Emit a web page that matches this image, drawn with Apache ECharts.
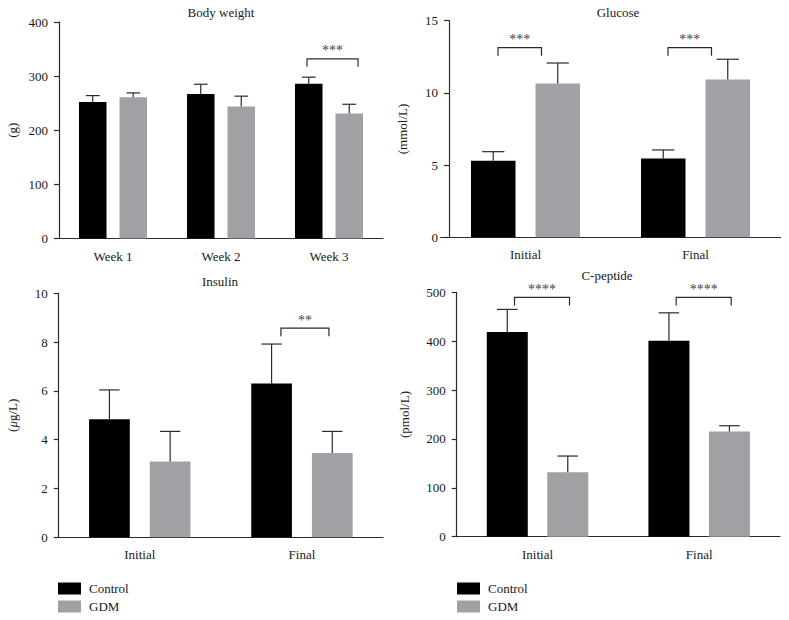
<!DOCTYPE html>
<html>
<head>
<meta charset="utf-8">
<script src="https://cdn.jsdelivr.net/npm/echarts@6/dist/echarts.min.js"></script>
<style>
  html, body { margin: 0; padding: 0; background: #fff; }
  #chart { width: 789px; height: 620px; }
</style>
</head>
<body>
<div id="chart"></div>
<script>
// ---------- data ----------
const seriesNames = ['Control', 'GDM'];

const bwCats = ['Week 1', 'Week 2', 'Week 3'];
const bwControl = [252, 267, 286];
const bwControlSD = [12, 18, 12];
const bwGDM = [261, 244, 231];
const bwGDMSD = [8, 19, 17];
const bwTicks = [0, 100, 200, 300, 400];
const bwSig = [{ cat: 2, level: 332, label: '***' }];

const gluCats = ['Initial', 'Final'];
const gluControl = [5.3, 5.45];
const gluControlSD = [0.63, 0.6];
const gluGDM = [10.65, 10.92];
const gluGDMSD = [1.42, 1.41];
const gluTicks = [0, 5, 10, 15];
const gluSig = [{ cat: 0, level: 13.13, label: '***' }, { cat: 1, level: 13.13, label: '***' }];

const insCats = ['Initial', 'Final'];
const insControl = [4.84, 6.30];
const insControlSD = [1.2, 1.62];
const insGDM = [3.11, 3.45];
const insGDMSD = [1.23, 0.89];
const insTicks = [0, 2, 4, 6, 8, 10];
const insSig = [{ cat: 1, level: 8.57, label: '**' }];

const cpCats = ['Initial', 'Final'];
const cpControl = [419, 401];
const cpControlSD = [46, 57];
const cpGDM = [132, 215];
const cpGDMSD = [33, 12];
const cpTicks = [0, 100, 200, 300, 400, 500];
const cpSig = [{ cat: 0, level: 489.6, label: '****' }, { cat: 1, level: 489.6, label: '****' }];

// ---------- style / layout ----------
const FONT = 'Liberation Serif';
const LINE = '#2b2b2b';
const TEXT = '#1a1a1a';
const COLORS = ['#000000', '#a1a1a5'];

const panels = [
  { title: 'Body weight', titleX: 221, titleY: 6,
    grid: { left: 59, top: 22, width: 324, height: 216.5 }, yOffset: 0,
    yName: '(g)', nameGap: 40, ticks: bwTicks,
    cats: bwCats, ctrl: bwControl, ctrlSD: bwControlSD, gdm: bwGDM, gdmSD: bwGDMSD,
    sig: bwSig, barW: 27.5, gap: 13, br: { l: -22, r: 29 } },
  { title: 'Glucose', titleX: 618, titleY: 6,
    grid: { left: 440.5, top: 20.7, width: 340, height: 216.6 }, yOffset: -8.5,
    yName: '(mmol/L)', nameGap: 40, ticks: gluTicks,
    cats: gluCats, ctrl: gluControl, ctrlSD: gluControlSD, gdm: gluGDM, gdmSD: gluGDMSD,
    sig: gluSig, barW: 44.5, gap: 20, br: { l: -27.5, r: 16 } },
  { title: 'Insulin', titleX: 220, titleY: 275,
    grid: { left: 58.7, top: 293.3, width: 324.3, height: 244 }, yOffset: 0,
    yName: '({mu|μ}g/L)', nameGap: 40, ticks: insTicks,
    cats: insCats, ctrl: insControl, ctrlSD: insControlSD, gdm: insGDM, gdmSD: insGDMSD,
    sig: insSig, barW: 40.7, gap: 20, br: { l: -21, r: 27 } },
  { title: 'C-peptide', titleX: 607, titleY: 269,
    grid: { left: 456.7, top: 292.3, width: 323.3, height: 244.4 }, yOffset: 0,
    yName: '(pmol/L)', nameGap: 46, ticks: cpTicks,
    cats: cpCats, ctrl: cpControl, ctrlSD: cpControlSD, gdm: cpGDM, gdmSD: cpGDMSD,
    sig: cpSig, barW: 41, gap: 19.5, br: { l: -23, r: 32 } }
];

const option = {
  animation: false,
  backgroundColor: '#ffffff',
  textStyle: { fontFamily: FONT, color: TEXT },
  color: COLORS,
  title: [], grid: [], xAxis: [], yAxis: [], series: [],
  legend: [0, 1].map(i => ({
    data: seriesNames,
    orient: 'vertical',
    left: i === 0 ? 58 : 457,
    top: 582,
    padding: 0,
    icon: 'rect',
    itemWidth: 23,
    itemHeight: 12,
    itemGap: 5,
    selectedMode: false,
    textStyle: { fontFamily: FONT, fontSize: 13, color: TEXT, padding: [0, 0, 0, 3] }
  }))
};

panels.forEach((p, gi) => {
  option.title.push({
    text: p.title, left: p.titleX, top: p.titleY, padding: 0, textAlign: 'center',
    textStyle: { fontFamily: FONT, fontSize: 13, fontWeight: 'normal', color: TEXT }
  });
  option.grid.push(Object.assign({ containLabel: false }, p.grid));
  option.xAxis.push({
    type: 'category', gridIndex: gi, data: p.cats,
    axisLine: { lineStyle: { color: LINE, width: 1.2 } },
    axisTick: { alignWithLabel: true, length: 6, lineStyle: { color: LINE, width: 1.2 } },
    axisLabel: { fontFamily: FONT, fontSize: 13, color: TEXT, margin: 11 },
    splitLine: { show: false }
  });
  const tks = p.ticks;
  option.yAxis.push({
    type: 'value', gridIndex: gi,
    min: tks[0], max: tks[tks.length - 1], interval: tks[1] - tks[0],
    offset: p.yOffset,
    name: p.yName, nameLocation: 'middle', nameGap: p.nameGap, nameRotate: 90,
    nameTextStyle: { fontFamily: FONT, fontSize: 13, color: TEXT,
      rich: { mu: { fontFamily: FONT, fontSize: 13, fontStyle: 'italic', color: TEXT } } },
    axisLine: { show: true, lineStyle: { color: LINE, width: 1.2 } },
    axisTick: { show: true, length: 5, lineStyle: { color: LINE, width: 1.2 } },
    axisLabel: { fontFamily: FONT, fontSize: 13, color: TEXT, margin: 11 },
    splitLine: { show: false }
  });

  const groups = [[p.ctrl, p.ctrlSD], [p.gdm, p.gdmSD]];
  const shift = (p.barW + p.gap) / 2;
  groups.forEach((g, k) => {
    option.series.push({
      type: 'bar', name: seriesNames[k], xAxisIndex: gi, yAxisIndex: gi,
      data: g[0], barWidth: p.barW, barGap: (p.gap / p.barW * 100) + '%',
      itemStyle: { color: COLORS[k] }, z: 2
    });
  });
  groups.forEach((g, k) => {
    const dx = k === 0 ? -shift : shift;
    const capHalf = p.barW / 4;
    option.series.push({
      type: 'custom', name: 'err' + gi + '_' + k, xAxisIndex: gi, yAxisIndex: gi, z: 3,
      silent: true,
      data: g[0].map((v, i) => [i, v, g[1][i]]),
      encode: { x: 0, y: 1 },
      renderItem: (params, api) => {
        const idx = api.value(0), m = api.value(1), sd = api.value(2);
        const a = api.coord([idx, m]);
        const b = api.coord([idx, m + sd]);
        const x = a[0] + dx;
        const st = { stroke: LINE, lineWidth: 1.2 };
        return { type: 'group', children: [
          { type: 'line', shape: { x1: x, y1: a[1], x2: x, y2: b[1] }, style: st },
          { type: 'line', shape: { x1: x - capHalf, y1: b[1], x2: x + capHalf, y2: b[1] }, style: st }
        ] };
      }
    });
  });
  option.series.push({
    type: 'custom', name: 'sig' + gi, xAxisIndex: gi, yAxisIndex: gi, z: 3, silent: true,
    data: p.sig.map(s => [s.cat, s.level, s.label]),
    encode: { x: 0, y: 1 },
    renderItem: (params, api) => {
      const c = api.coord([api.value(0), api.value(1)]);
      const s = p.sig[params.dataIndex];
      const x1 = c[0] + p.br.l, x2 = c[0] + p.br.r, y = c[1], leg = 8;
      return { type: 'group', children: [
        { type: 'polyline', shape: { points: [[x1, y + leg], [x1, y], [x2, y], [x2, y + leg]] },
          style: { stroke: LINE, lineWidth: 1.2, fill: null } },
        { type: 'text', x: (x1 + x2) / 2, y: y - 1,
          style: { text: s.label, fontFamily: FONT, fontSize: 14, fill: '#444',
                   align: 'center', verticalAlign: 'bottom' } }
      ] };
    }
  });
});

const chart = echarts.init(document.getElementById('chart'), null, { renderer: 'svg' });
chart.setOption(option);
</script>
</body>
</html>
